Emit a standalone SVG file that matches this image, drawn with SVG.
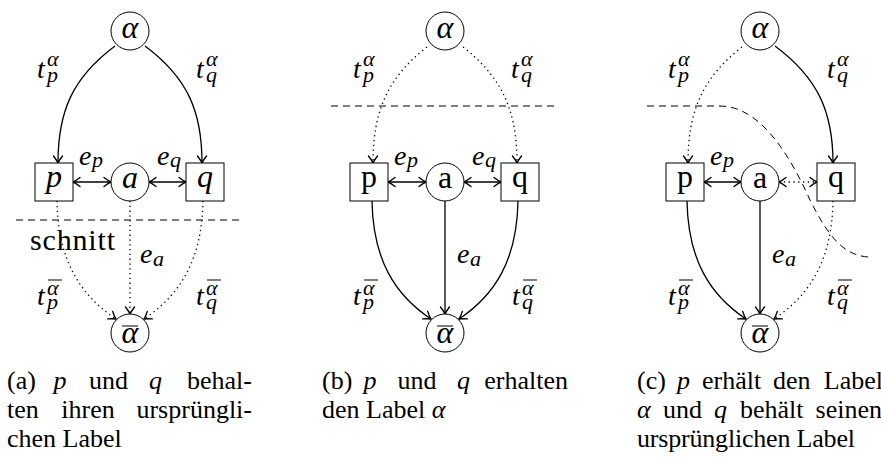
<svg xmlns="http://www.w3.org/2000/svg" width="881" height="462" viewBox="0 0 881 462">
<style>
text{font-family:'Liberation Serif',serif;fill:#000}
.nd{fill:#fff;stroke:#000;stroke-width:1}
.it{font-style:italic}
.nl{font-size:32px}
.lb{font-size:28px;font-style:italic}
.sb{font-size:22px}
.cp{font-size:26px}
.so{fill:none;stroke:#000;stroke-width:1.3}
.dt{fill:none;stroke:#000;stroke-width:1.3;stroke-dasharray:1.3 3.5}
.da{fill:none;stroke:#000;stroke-width:1;stroke-dasharray:7 5}
.ar{marker-end:url(#ah)}
.ar2{marker-start:url(#ah);marker-end:url(#ah)}
.ol{stroke:#000;stroke-width:1}
</style>
<defs>
<marker id="ah" markerUnits="userSpaceOnUse" markerWidth="14" markerHeight="14" viewBox="-10 -7 14 14" refX="0" refY="0" orient="auto-start-reverse" overflow="visible">
<path d="M -7 -4.5 Q -2.5 -1 0 0 Q -2.5 1 -7 4.5" fill="none" stroke="#000" stroke-width="1.4" stroke-dasharray="none" stroke-linecap="round"/>
</marker>
</defs>

<!-- Diagram (a) -->
<g id="diagram-a">
<g id="a-connectors">
<path class="so ar" d="M 115 46 C 72 78, 58 112, 58 163"/>
<path class="so ar" d="M 145 46 C 188 78, 202 112, 202 163"/>
<path class="so ar2" d="M 73 182 L 111 182"/>
<path class="so ar2" d="M 149 182 L 186 182"/>
<path class="dt ar" d="M 57 201 C 58 260, 80 295, 116 319"/>
<path class="dt ar" d="M 130 201 L 130 314"/>
<path class="dt ar" d="M 203 201 C 202 260, 180 295, 144 319"/>
<path class="da" d="M 16 220 L 244 220"/>
</g>
<g id="a-alpha"><circle class="nd" cx="130" cy="31" r="19"/><text class="it nl" x="130" y="38" text-anchor="middle">α</text></g>
<g id="a-p"><rect class="nd" x="35" y="163" width="38" height="38"/><text class="it nl" x="54" y="187" text-anchor="middle">p</text></g>
<g id="a-a"><circle class="nd" cx="130" cy="182" r="19"/><text class="it nl" x="130" y="188" text-anchor="middle">a</text></g>
<g id="a-q"><rect class="nd" x="186" y="163" width="38" height="38"/><text class="it nl" x="205" y="187" text-anchor="middle">q</text></g>
<g id="a-alphabar"><circle class="nd" cx="130" cy="333" r="19"/><line class="ol" x1="122" y1="326" x2="138" y2="326"/><text class="it nl" x="130" y="343" text-anchor="middle">α</text></g>
<g id="a-labels">
<text class="lb" x="37" y="78">t<tspan class="sb" x="47" y="66">α</tspan><tspan class="sb" x="47" y="82">p</tspan></text>
<text class="lb" x="196" y="78">t<tspan class="sb" x="206" y="66">α</tspan><tspan class="sb" x="206" y="82">q</tspan></text>
<text class="lb" x="79" y="165">e<tspan class="sb" x="92" y="167">p</tspan></text>
<text class="lb" x="157" y="165">e<tspan class="sb" x="170" y="167">q</tspan></text>
<text class="lb" x="140" y="263">e<tspan class="sb" x="153" y="266">a</tspan></text>
<line class="ol" x1="48" y1="280" x2="62" y2="280"/><text class="lb" x="37" y="305">t<tspan class="sb" x="47" y="295">α</tspan><tspan class="sb" x="47" y="309">p</tspan></text>
<line class="ol" x1="207" y1="280" x2="221" y2="280"/><text class="lb" x="196" y="305">t<tspan class="sb" x="206" y="295">α</tspan><tspan class="sb" x="206" y="309">q</tspan></text>
<text x="30" y="250" font-size="30" textLength="85">schnitt</text>
</g>
<g id="a-caption" class="cp">
<text x="7" y="389">(a)</text><text class="it" x="60" y="389" text-anchor="middle">p</text><text x="108.5" y="389" text-anchor="middle">und</text><text class="it" x="155.5" y="389" text-anchor="middle">q</text><text x="252" y="389" text-anchor="end">behal-</text>
<text x="7" y="418">ten</text><text x="88" y="418" text-anchor="middle">ihren</text><text x="252" y="418" text-anchor="end">ursprüngli-</text>
<text x="7" y="447">chen Label</text>
</g>
</g>

<!-- Diagram (b) -->
<g id="diagram-b" transform="translate(315,0)">
<g id="b-connectors">
<path class="dt ar" d="M 112 47 C 72 78, 58 112, 58 163"/>
<path class="dt ar" d="M 148 47 C 188 78, 202 112, 202 163"/>
<path class="so ar2" d="M 73 182 L 111 182"/>
<path class="so ar2" d="M 149 182 L 186 182"/>
<path class="so ar" d="M 57 201 C 58 260, 80 295, 116 319"/>
<path class="so ar" d="M 130 201 L 130 314"/>
<path class="so ar" d="M 203 201 C 202 260, 180 295, 144 319"/>
<path class="da" d="M 16 106 L 244 106"/>
</g>
<g id="b-alpha"><circle class="nd" cx="130" cy="31" r="19"/><text class="it nl" x="130" y="38" text-anchor="middle">α</text></g>
<g id="b-p"><rect class="nd" x="35" y="163" width="38" height="38"/><text class="nl" x="54" y="187" text-anchor="middle">p</text></g>
<g id="b-a"><circle class="nd" cx="130" cy="182" r="19"/><text class="nl" x="130" y="188" text-anchor="middle">a</text></g>
<g id="b-q"><rect class="nd" x="186" y="163" width="38" height="38"/><text class="nl" x="205" y="187" text-anchor="middle">q</text></g>
<g id="b-alphabar"><circle class="nd" cx="130" cy="333" r="19"/><line class="ol" x1="122" y1="326" x2="138" y2="326"/><text class="it nl" x="130" y="343" text-anchor="middle">α</text></g>
<g id="b-labels">
<text class="lb" x="38" y="78">t<tspan class="sb" x="48" y="66">α</tspan><tspan class="sb" x="48" y="82">p</tspan></text>
<text class="lb" x="196" y="78">t<tspan class="sb" x="206" y="66">α</tspan><tspan class="sb" x="206" y="82">q</tspan></text>
<text class="lb" x="79" y="165">e<tspan class="sb" x="92" y="167">p</tspan></text>
<text class="lb" x="157" y="165">e<tspan class="sb" x="170" y="167">q</tspan></text>
<text class="lb" x="142" y="263">e<tspan class="sb" x="155" y="266">a</tspan></text>
<line class="ol" x1="49" y1="280" x2="63" y2="280"/><text class="lb" x="38" y="305">t<tspan class="sb" x="48" y="295">α</tspan><tspan class="sb" x="48" y="309">p</tspan></text>
<line class="ol" x1="208" y1="280" x2="222" y2="280"/><text class="lb" x="197" y="305">t<tspan class="sb" x="207" y="295">α</tspan><tspan class="sb" x="207" y="309">q</tspan></text>
</g>
</g>
<g id="b-caption" class="cp">
<text x="322" y="389">(b)</text><text class="it" x="370" y="389" text-anchor="middle">p</text><text x="417" y="389" text-anchor="middle">und</text><text class="it" x="463.5" y="389" text-anchor="middle">q</text><text x="568" y="389" text-anchor="end">erhalten</text>
<text x="322" y="418">den Label <tspan class="it">α</tspan></text>
</g>

<!-- Diagram (c) -->
<g id="diagram-c" transform="translate(630,0)">
<g id="c-connectors">
<path class="dt ar" d="M 112 47 C 72 78, 58 112, 58 163"/>
<path class="so ar" d="M 145 46 C 188 78, 203 112, 203 163"/>
<path class="so ar2" d="M 74 182 L 111 182"/>
<path class="dt ar2" d="M 149 182 L 187 182"/>
<path class="so ar" d="M 57 201 C 58 260, 80 295, 116 319"/>
<path class="so ar" d="M 130 201 L 130 314"/>
<path class="dt ar" d="M 203 201 C 202 260, 180 295, 144 319"/>
<path class="da" d="M 17 106 L 90 106 C 132 106, 162 160, 180 200 C 200 240, 215 255, 238 257"/>
</g>
<g id="c-alpha"><circle class="nd" cx="130" cy="31" r="19"/><text class="it nl" x="130" y="38" text-anchor="middle">α</text></g>
<g id="c-p"><rect class="nd" x="36" y="163" width="38" height="38"/><text class="nl" x="55" y="187" text-anchor="middle">p</text></g>
<g id="c-a"><circle class="nd" cx="130" cy="182" r="19"/><text class="nl" x="130" y="188" text-anchor="middle">a</text></g>
<g id="c-q"><rect class="nd" x="187" y="163" width="38" height="38"/><text class="nl" x="206" y="187" text-anchor="middle">q</text></g>
<g id="c-alphabar"><circle class="nd" cx="130" cy="333" r="19"/><line class="ol" x1="122" y1="326" x2="138" y2="326"/><text class="it nl" x="130" y="343" text-anchor="middle">α</text></g>
<g id="c-labels">
<text class="lb" x="38" y="78">t<tspan class="sb" x="48" y="66">α</tspan><tspan class="sb" x="48" y="82">p</tspan></text>
<text class="lb" x="197" y="78">t<tspan class="sb" x="207" y="66">α</tspan><tspan class="sb" x="207" y="82">q</tspan></text>
<text class="lb" x="80" y="165">e<tspan class="sb" x="93" y="167">p</tspan></text>
<text class="lb" x="142" y="263">e<tspan class="sb" x="155" y="266">a</tspan></text>
<line class="ol" x1="49" y1="280" x2="63" y2="280"/><text class="lb" x="38" y="305">t<tspan class="sb" x="48" y="295">α</tspan><tspan class="sb" x="48" y="309">p</tspan></text>
<line class="ol" x1="208" y1="280" x2="222" y2="280"/><text class="lb" x="197" y="305">t<tspan class="sb" x="207" y="295">α</tspan><tspan class="sb" x="207" y="309">q</tspan></text>
</g>
</g>
<g id="c-caption" class="cp">
<text x="637" y="389">(c)</text><text class="it" x="677" y="389">p</text><text x="702" y="389">erhält</text><text x="773" y="389">den</text><text x="883" y="389" text-anchor="end">Label</text>
<text class="it" x="637" y="418">α</text><text x="663" y="418">und</text><text class="it" x="714" y="418">q</text><text x="740" y="418">behält</text><text x="882" y="418" text-anchor="end">seinen</text>
<text x="637" y="447" textLength="218">ursprünglichen Label</text>
</g>
</svg>
